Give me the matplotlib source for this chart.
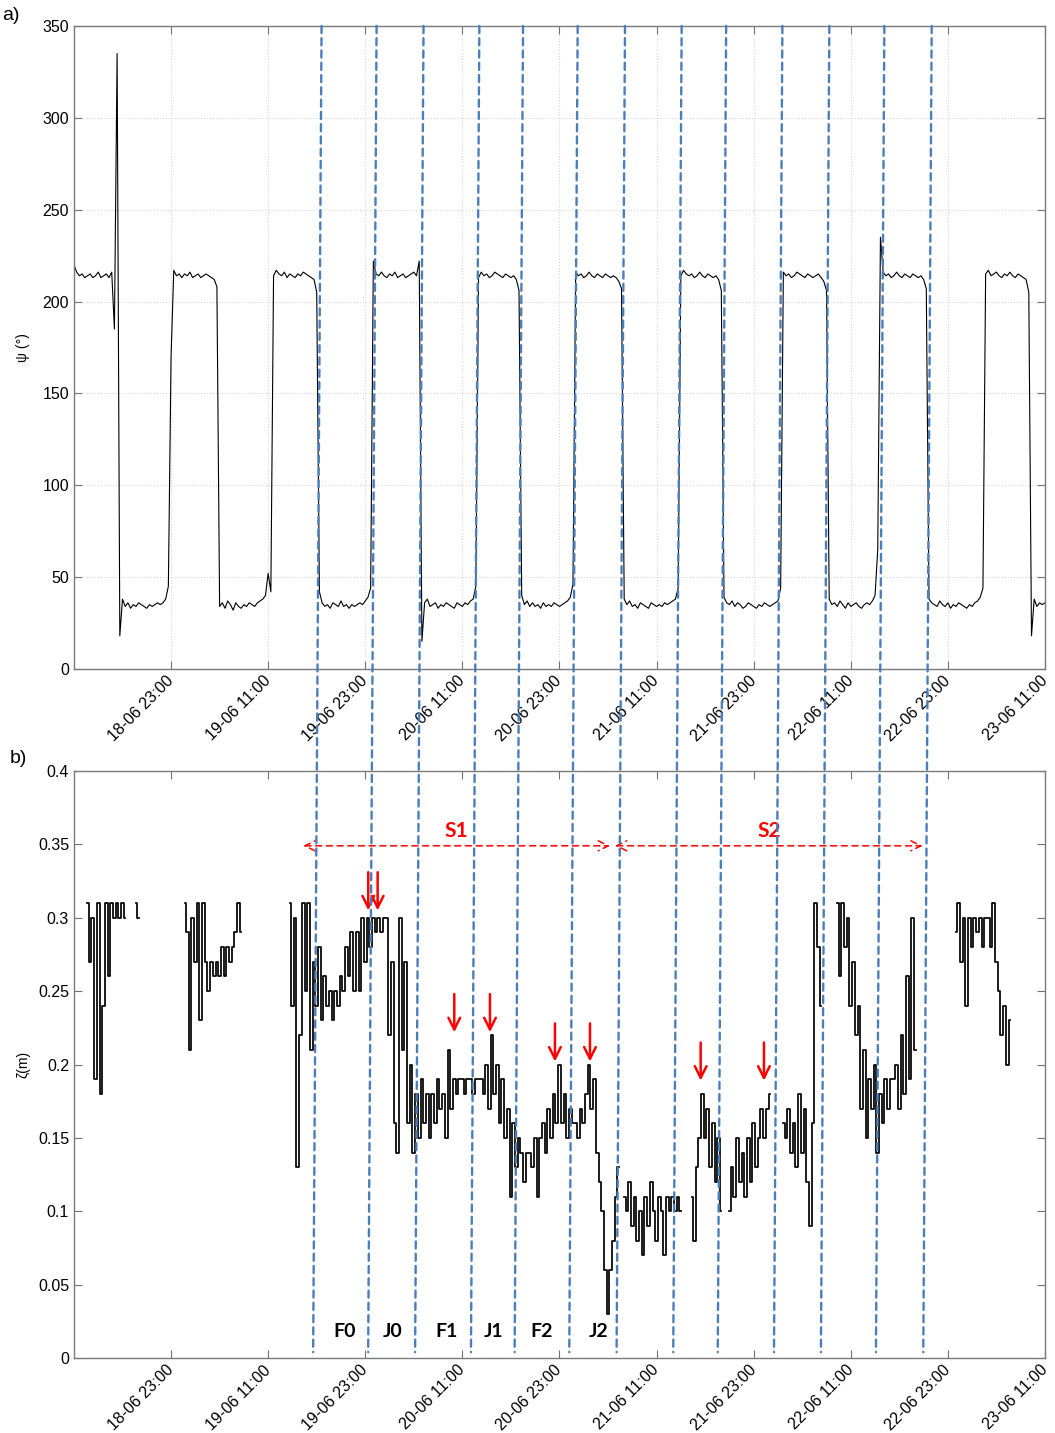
import datetime
import numpy as np
import matplotlib
matplotlib.use('Agg')
import matplotlib.pyplot as plt
import matplotlib.dates as mdates
from matplotlib.patches import ConnectionPatch

plt.rcParams['font.family'] = ['Liberation Sans', 'DejaVu Sans']

t_start = datetime.datetime(2018, 6, 18, 11, 0)
t_end = datetime.datetime(2018, 6, 23, 11, 0)

# psi (deg), one value every 20 min from t_start, one row per plateau
psi = [
    220, 216, 214, 215, 213, 214, 215, 213, 214, 216, 213, 214, 215, 213, 216, 185, 335,
    18, 38, 34, 36, 33, 35, 34, 36, 35, 34, 33, 35, 34, 35, 36, 35, 36, 38, 45,
    170, 217, 214, 215, 213, 215, 214, 216, 213, 214, 215, 213, 214, 215, 214, 213, 212, 208,
    34, 36, 33, 37, 35, 32, 36, 34, 33, 35, 34, 36, 35, 34, 36, 37, 38, 40, 52, 42,
    214, 217, 215, 214, 216, 213, 215, 214, 213, 215, 214, 216, 215, 214, 213, 212, 205,
    42, 36, 34, 35, 33, 36, 35, 34, 37, 34, 35, 33, 35, 34, 35, 36, 35, 37, 39, 44,
    222, 215, 214, 216, 214, 213, 215, 214, 216, 213, 214, 215, 213, 214, 215, 216, 214, 222,
    15, 36, 38, 34, 35, 36, 33, 35, 34, 36, 35, 34, 33, 36, 35, 34, 36, 35, 37, 38, 45,
    213, 216, 214, 215, 213, 214, 216, 215, 214, 213, 215, 214, 213, 214, 212, 206,
    40, 35, 37, 34, 36, 34, 35, 33, 36, 34, 35, 34, 36, 35, 34, 35, 36, 37, 39, 46,
    216, 214, 215, 213, 214, 216, 214, 213, 215, 214, 213, 215, 214, 213, 214, 213, 211, 207,
    38, 35, 37, 34, 35, 33, 36, 35, 34, 33, 36, 35, 34, 35, 34, 36, 35, 36, 37, 38, 44,
    214, 217, 215, 214, 215, 213, 214, 216, 214, 213, 215, 214, 213, 214, 212, 206,
    39, 36, 35, 37, 34, 36, 35, 33, 34, 36, 35, 34, 33, 35, 34, 36, 35, 34, 35, 36, 37, 44,
    216, 214, 215, 213, 214, 216, 215, 214, 213, 215, 214, 213, 214, 215, 213, 211, 206,
    38, 35, 36, 34, 37, 35, 33, 36, 34, 35, 36, 34, 33, 35, 36, 35, 37, 40, 65,
    235, 216, 214, 215, 213, 214, 216, 214, 213, 215, 214, 213, 215, 214, 213, 214, 212, 207,
    38, 36, 35, 34, 37, 35, 34, 36, 33, 35, 34, 36, 35, 34, 33, 35, 34, 36, 37, 39, 44,
    215, 217, 214, 215, 216, 214, 213, 215, 214, 216, 214, 213, 215, 214, 213, 212, 205,
    18, 38, 34, 36, 35, 36,
]

# zeta (cm), pieces of record sampled every 20 min, with their first time
zeta_starts = ['2018-06-18 12:40', '2018-06-18 18:40', '2018-06-19 00:40', '2018-06-19 13:40',
               '2018-06-21 07:00', '2018-06-21 15:20', '2018-06-21 20:00', '2018-06-22 02:40',
               '2018-06-22 09:20', '2018-06-23 00:00']
zeta_a = [31, 27, 30, 19, 31, 18, 24, 31, 26, 31, 30, 31, 30, 31, 30]
zeta_a2 = [31, 30]
zeta_b = [31, 29, 21, 30, 27, 31, 23, 31, 27, 25, 27, 26, 27, 26, 28, 26, 28, 27, 28, 29, 31, 29]
zeta_c = [31, 24, 30, 13, 22, 31, 25, 31, 21, 27,
          24, 28, 23, 26, 24, 25, 23, 25, 24, 26,
          25, 28, 26, 29, 25, 29, 25, 30, 27, 30,
          28, 30, 29, 30, 29, 30, 30, 22, 27, 16,
          14, 30, 21, 27, 16, 20, 14, 18, 15, 19,
          16, 18, 15, 18, 16, 19, 17, 18, 15, 21,
          17, 19, 18, 19, 19, 18, 19, 19, 18, 19,
          19, 19, 18, 20, 17, 22, 18, 20, 16, 19,
          15, 17, 11, 16, 13, 15, 14, 12, 14, 14,
          13, 15, 11, 15, 16, 14, 17, 15, 18, 16,
          20, 16, 18, 15, 17, 16, 16, 15, 17, 16,
          18, 20, 17, 19, 14, 12, 10, 6, 3, 6,
          8, 11, 13]
zeta_d = [11, 10, 12, 9, 11, 8, 10, 7, 11, 9, 12, 10, 8, 11, 10, 7, 11, 10, 11, 10, 11, 10]
zeta_d2 = [11, 8, 13, 15, 18, 15, 17, 13, 16, 12, 15, 10]
zeta_d3 = [10, 13, 11, 15, 12, 14, 11, 15, 12, 16, 13, 15, 17, 15, 17, 18]
zeta_d4 = [16, 15, 17, 14, 16, 13, 18, 14, 17, 12, 9, 16, 31, 28, 24]
zeta_f = [31, 26, 31, 28, 30, 24, 27, 22, 24, 17, 21, 15, 19, 17, 20, 14, 18, 16, 19, 17,
          19, 19, 20, 17, 22, 18, 26, 19, 30, 21]
zeta_g = [29, 31, 27, 30, 24, 30, 28, 30, 29, 30, 28, 30, 30, 28, 31, 27, 25, 22, 24, 20, 23]
zeta_pieces = [zeta_a, zeta_a2, zeta_b, zeta_c, zeta_d, zeta_d2, zeta_d3, zeta_d4, zeta_f, zeta_g]

# phase boundaries (hours after t_start) where the dashed lines cross the top of a)
bounds_h = [30.6, 37.4, 43.2, 50.1, 55.5, 62.25, 68.1, 75.1, 80.6, 87.55, 93.35, 100.15, 106.0]
bounds_tilt_h = 1.04

phase_names = ['F0', 'J0', 'F1', 'J1', 'F2', 'J2']
phase_h = [33.5, 39.4, 46.0, 51.9, 57.8, 64.8]

# peaks marked with red arrows: hours after t_start, zeta (m)
peak_h = [36.37, 37.53, 47.0, 51.41, 59.44, 63.77, 77.45, 85.27]
peak_z = [0.305, 0.305, 0.222, 0.222, 0.202, 0.202, 0.189, 0.189]

spans = {'S1': (28.34, 66.24), 'S2': (66.86, 104.88)}
span_z = 0.349


def hours(h):
    return mdates.date2num(t_start) + np.asarray(h) / 24.0


fig = plt.figure(figsize=(10.55, 14.33), dpi=100)
ax1 = fig.add_axes([0.0701, 0.5332, 0.9204, 0.4487])
ax2 = fig.add_axes([0.0701, 0.0523, 0.9204, 0.4097])

t_psi = hours(np.arange(len(psi)) / 3.0)
ax1.plot(t_psi, psi, color='black', lw=0.8)

for s, vals in zip(zeta_starts, zeta_pieces):
    t0 = mdates.date2num(datetime.datetime.strptime(s, '%Y-%m-%d %H:%M'))
    t = t0 + np.arange(len(vals)) / 72.0
    ax2.plot(t, np.array(vals) / 100.0, color='black', lw=1.25, drawstyle='steps-mid')

tick_dates = [t_start + datetime.timedelta(hours=12 + 12 * k) for k in range(10)]
for ax in (ax1, ax2):
    ax.set_xlim(mdates.date2num(t_start), mdates.date2num(t_end))
    ax.set_xticks(mdates.date2num(tick_dates))
    ax.xaxis.set_major_formatter(mdates.DateFormatter('%d-%m %H:%M'))
    ax.tick_params(direction='in', length=6, width=0.8, top=True, right=True,
                   colors='#707070', labelcolor='black', labelsize=11.5)
    ax.tick_params(axis='x', pad=7)
    for lbl in ax.get_xticklabels():
        lbl.set_rotation(45)
        lbl.set_ha('right')
        lbl.set_va('center')
        lbl.set_rotation_mode('anchor')
    for sp in ax.spines.values():
        sp.set_color('#7a7a7a')
        sp.set_linewidth(1.0)

ax1.set_ylim(0, 350)
ax1.set_yticks(range(0, 351, 50))
ax1.grid(True, ls=':', color='#d5d5d5', lw=0.8)
ax1.set_ylabel('ψ (°)', fontsize=10)

ax2.set_ylim(0, 0.4)
ax2.set_yticks(np.arange(9) * 0.05)
ax2.set_yticklabels(['0', '0.05', '0.1', '0.15', '0.2', '0.25', '0.3', '0.35', '0.4'])
ax2.set_ylabel('ζ(m)', fontsize=10)
ax1.yaxis.set_label_coords(-0.045, 0.5)
ax2.yaxis.set_label_coords(-0.045, 0.5)

fig.text(0.002, 0.989, 'a)', fontsize=14, va='center')
fig.text(0.009, 0.471, 'b)', fontsize=14, va='center')

# phase boundaries crossing both panels
for h in bounds_h:
    con = ConnectionPatch(xyA=(hours(h), 350), coordsA=ax1.transData,
                          xyB=(hours(h - bounds_tilt_h), 0.004), coordsB=ax2.transData,
                          color='#4a7ebb', lw=1.7, linestyle=(0, (3, 2.2)))
    fig.add_artist(con)

for name, h in zip(phase_names, phase_h):
    ax2.text(hours(h), 0.018, name, fontsize=14, fontweight='bold', family='Lato',
             ha='center', va='center')

for h, z in zip(peak_h, peak_z):
    ax2.annotate('', xy=(hours(h), z), xytext=(hours(h), z + 0.026),
                 arrowprops=dict(arrowstyle='->,head_length=0.6,head_width=0.3',
                                 color='red', lw=1.8, mutation_scale=14, shrinkA=0, shrinkB=0))

for name, (h0, h1) in spans.items():
    ax2.annotate('', xy=(hours(h1), span_z), xytext=(hours(h0), span_z),
                 arrowprops=dict(arrowstyle='<->,head_length=0.6,head_width=0.3',
                                 color='red', lw=1.1, ls=(0, (4, 3)), mutation_scale=12,
                                 shrinkA=0, shrinkB=0))
    ax2.text(hours((h0 + h1) / 2), span_z + 0.010, name, color='red', fontsize=15,
             fontweight='bold', family='Lato', ha='center', va='center')

fig.savefig('out.png', dpi=100)
